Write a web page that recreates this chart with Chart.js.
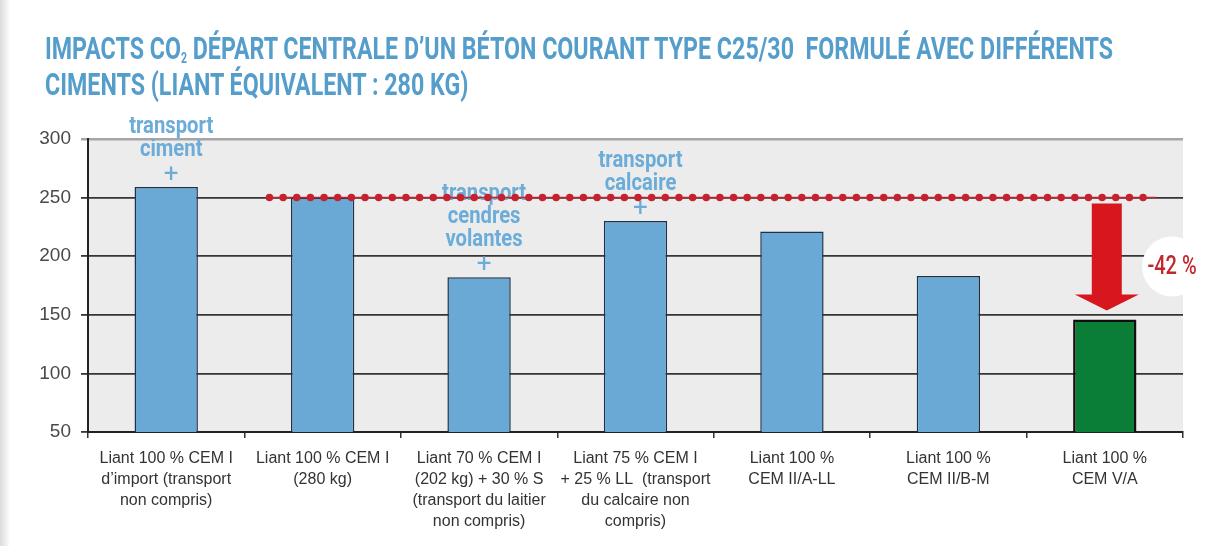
<!doctype html>
<html lang="fr">
  <head>
    <meta charset="utf-8">
    <title>Impacts CO2 béton C25/30</title>
    <style>
      html, body { margin: 0; padding: 0; background: #fff; }
      body { width: 1206px; height: 546px; position: relative; overflow: hidden;
             background: linear-gradient(to right, #dcdcdc 0, #efefef 6px, #fff 10px); }
      #chart { position: absolute; left: 0; top: 0; }
      #title { position: absolute; left: 45px; top: 31px; white-space: pre;
               font: 700 31px Roboto, "DejaVu Sans", sans-serif; line-height: 36px;
               color: #559dcb; transform-origin: 0 0; }
      #title div { display: inline-block; }
      #title sub { font-size: 0.45em; vertical-align: -0.3em; line-height: 0; }
    </style>
  </head>
  <body>
    <canvas id="chart" width="1206" height="546"></canvas>
    <div id="title"><div id="t1">IMPACTS CO<sub>2</sub> DÉPART CENTRALE D’UN BÉTON COURANT TYPE C25/30  FORMULÉ AVEC DIFFÉRENTS</div><br><div id="t2">CIMENTS (LIANT ÉQUIVALENT : 280 KG)</div></div>

    <script src="https://cdn.jsdelivr.net/npm/chart.js"></script>
    <script>
        // data
        var categories = [
            ["Liant 100 % CEM I", "d’import (transport", "non compris)"],
            ["Liant 100 % CEM I", "(280 kg)"],
            ["Liant 70 % CEM I", "(202 kg) + 30 % S", "(transport du laitier", "non compris)"],
            ["Liant 75 % CEM I", "+ 25 % LL  (transport", "du calcaire non", "compris)"],
            ["Liant 100 %", "CEM II/A-LL"],
            ["Liant 100 %", "CEM II/B-M"],
            ["Liant 100 %", "CEM V/A"]
        ]
        var co2Values = [259, 250, 182, 230, 221, 183, 146]
        var yTicks = [50, 100, 150, 200, 250, 300]
        var referenceValue = 250
        var transportNotes = [
            ["transport", "ciment"],
            null,
            ["transport", "cendres", "volantes"],
            ["transport", "calcaire"],
            null, null, null
        ]

        // squeeze the title into its condensed look
        var title = document.getElementById("title")
        var w1 = document.getElementById("t1").getBoundingClientRect().width
        title.style.transform = "scaleX(" + (1068 / w1) + ")"

        var blue = "#6aa8d5"
        var green = "#0a7d36"
        var lastIdx = co2Values.length - 1
        var reduction = Math.round((co2Values[lastIdx] / referenceValue - 1) * 100)

        // plot background, notes, reference line, arrow
        var decorations = {
            id: "decorations",
            beforeDraw: function(chart) {
                var a = chart.chartArea, ctx = chart.ctx
                ctx.save()
                ctx.fillStyle = "#ececec"
                ctx.fillRect(a.left, a.top, a.right - a.left, a.bottom - a.top)
                ctx.restore()
            },
            afterDatasetsDraw: function(chart) {
                var ctx = chart.ctx
                var x = chart.scales.x, y = chart.scales.y
                var bars = chart.getDatasetMeta(0).data
                var step = x.getPixelForValue(1) - x.getPixelForValue(0)
                ctx.save()

                // transport notes above bars (narrowed bold text)
                ctx.textAlign = "center"
                ctx.textBaseline = "middle"
                ctx.fillStyle = "#6cacd8"
                transportNotes.forEach(function(lines, i) {
                    if (!lines) return
                    var bx = bars[i].x + 5
                    var py = bars[i].y - 12
                    ctx.font = "400 26px Roboto"
                    ctx.fillText("+", bx, py)
                    ctx.save()
                    ctx.translate(bx, 0)
                    ctx.scale(0.88, 1)
                    ctx.font = "700 23px Roboto"
                    for (var k = lines.length - 1; k >= 0; k--) {
                        var ly = py - 25 - (lines.length - 1 - k) * 23
                        ctx.fillText(lines[k], 0, ly)
                    }
                    ctx.restore()
                })

                // dotted reference line
                var ry = y.getPixelForValue(referenceValue)
                var x0 = x.getPixelForValue(0) + 0.66 * step
                var x1 = x.getPixelForValue(0) + 6.33 * step
                ctx.strokeStyle = "#c4222f"
                ctx.lineWidth = 1.5
                ctx.beginPath()
                ctx.moveTo(x0, ry)
                ctx.lineTo(x1, ry)
                ctx.stroke()
                ctx.lineWidth = 7.5
                ctx.lineCap = "round"
                ctx.setLineDash([0, 13.65])
                ctx.beginPath()
                ctx.moveTo(x0, ry)
                ctx.lineTo(x1, ry)
                ctx.stroke()
                ctx.setLineDash([])

                // arrow down to the last bar
                var ax = bars[lastIdx].x + 2
                var top = ry + 6
                var tip = bars[lastIdx].y - 9
                var headH = 16
                ctx.fillStyle = "#d8161d"
                ctx.beginPath()
                ctx.moveTo(ax - 15, top)
                ctx.lineTo(ax + 15, top)
                ctx.lineTo(ax + 15, tip - headH)
                ctx.lineTo(ax + 32, tip - headH)
                ctx.lineTo(ax, tip)
                ctx.lineTo(ax - 32, tip - headH)
                ctx.lineTo(ax - 15, tip - headH)
                ctx.closePath()
                ctx.fill()

                // reduction label in a white disc
                var cx = chart.chartArea.right - 11
                var cy = (ry + bars[lastIdx].y) / 2 + 8
                ctx.fillStyle = "#ffffff"
                ctx.beginPath()
                ctx.arc(cx, cy, 30, 0, Math.PI * 2)
                ctx.fill()
                ctx.translate(cx, cy + 1)
                ctx.scale(0.8, 1)
                ctx.fillStyle = "#c0282e"
                ctx.font = "500 25px Roboto"
                ctx.fillText(reduction + " %", 0, 0)
                ctx.restore()
            }
        }

        new Chart(document.getElementById("chart"), {
            type: "bar",
            data: {
                labels: categories,
                datasets: [{
                    data: co2Values,
                    backgroundColor: co2Values.map(function(v, i) { return i === lastIdx ? green : blue }),
                    borderColor: co2Values.map(function(v, i) { return i === lastIdx ? "#101010" : "#1d3249" }),
                    borderWidth: co2Values.map(function(v, i) { return i === lastIdx ? 2.5 : 1.5 }),
                    borderSkipped: "bottom",
                    categoryPercentage: 1,
                    barPercentage: 0.405
                }]
            },
            options: {
                responsive: false,
                animation: false,
                layout: { padding: { left: 0, top: 139, right: 23, bottom: 0 } },
                plugins: { legend: { display: false }, tooltip: { enabled: false } },
                scales: {
                    x: {
                        afterFit: function(s) { s.height = 114 },
                        border: { color: "#222", width: 2 },
                        grid: { drawOnChartArea: false, drawTicks: true, tickLength: 6, color: "#333", lineWidth: 1.5 },
                        ticks: {
                            autoSkip: false, maxRotation: 0, padding: 10, color: "#333",
                            font: { family: "'Liberation Sans', Arial, sans-serif", size: 16, lineHeight: 1.32 }
                        }
                    },
                    y: {
                        min: yTicks[0],
                        max: yTicks[yTicks.length - 1],
                        afterFit: function(s) { s.width = 88 },
                        afterBuildTicks: function(s) { s.ticks = yTicks.map(function(v) { return { value: v } }) },
                        border: { color: "#222", width: 2 },
                        grid: {
                            tickLength: 7,
                            lineWidth: function(c) { return c.tick && c.tick.value === 300 ? 2.5 : 1.8 },
                            color: function(c) { return c.tick && c.tick.value === 300 ? "#a6a6a6" : "#353535" }
                        },
                        ticks: {
                            padding: 10, color: "#4a4a4a",
                            font: { family: "'Liberation Sans', Arial, sans-serif", size: 19 }
                        }
                    }
                }
            },
            plugins: [decorations]
        })
    </script>
  </body>
</html>
